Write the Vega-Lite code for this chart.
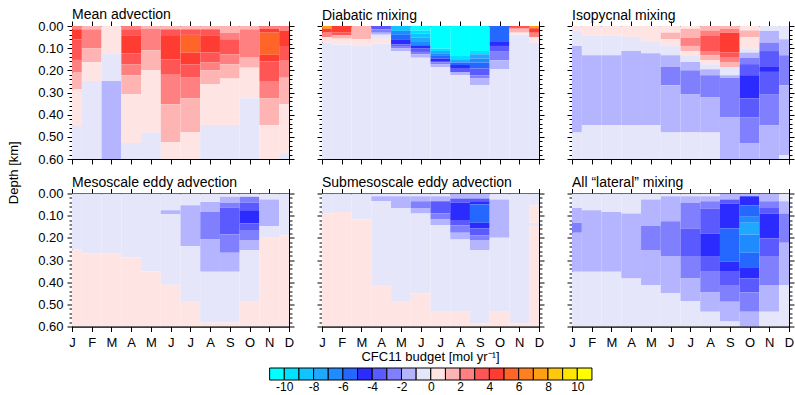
{
"$schema":"https://vega.github.io/schema/vega-lite/v6.json",
"padding":{"left":7,"top":7,"right":2,"bottom":2},
"config":{
 "font":"Liberation Sans",
 "view":{"stroke":"black","strokeWidth":1},
 "axis":{"grid":false,"domainColor":"black","domainWidth":1,"tickColor":"black","tickWidth":1,"labelColor":"black","labelFont":"Liberation Sans","labelFontSize":13,"labelFlush":false,"labelOverlap":false,"zindex":1,"titleFont":"Liberation Sans","titleFontSize":13,"titleFontWeight":"normal","titleColor":"black"},
 "axisX":{"tickSize":5,"labelPadding":5},
 "title":{"anchor":"start","frame":"group","fontSize":14,"fontWeight":"normal","color":"black","offset":0,"dy":6,"baseline":"alphabetic","font":"Liberation Sans"}
},
"title":{"text":"Depth [km]","orient":"left","anchor":"middle","frame":"bounds","fontSize":13,"offset":6.2,"dx":27,"dy":0,"baseline":"alphabetic"},
"datasets":{"cells":[
{"p":1,"m":0,"a":0,"b":0.015,"v":2.5},{"p":1,"m":0,"a":0.015,"b":0.06,"v":4.5},{"p":1,"m":0,"a":0.06,"b":0.153,"v":3.5},{"p":1,"m":0,"a":0.153,"b":0.21,"v":2.5},{"p":1,"m":0,"a":0.21,"b":0.285,"v":1.5},{"p":1,"m":0,"a":0.285,"b":0.447,"v":0.5},{"p":1,"m":0,"a":0.447,"b":0.6,"v":-0.5},
{"p":1,"m":1,"a":0,"b":0.015,"v":1.5},{"p":1,"m":1,"a":0.015,"b":0.1,"v":2.5},{"p":1,"m":1,"a":0.1,"b":0.163,"v":1.5},{"p":1,"m":1,"a":0.163,"b":0.248,"v":0.5},{"p":1,"m":1,"a":0.248,"b":0.6,"v":-0.5},
{"p":1,"m":2,"a":0,"b":0.123,"v":0.5},{"p":1,"m":2,"a":0.123,"b":0.248,"v":-0.5},{"p":1,"m":2,"a":0.248,"b":0.6,"v":-1.5},
{"p":1,"m":3,"a":0,"b":0.015,"v":2.5},{"p":1,"m":3,"a":0.015,"b":0.042,"v":3.5},{"p":1,"m":3,"a":0.042,"b":0.123,"v":4.5},{"p":1,"m":3,"a":0.123,"b":0.173,"v":3.5},{"p":1,"m":3,"a":0.173,"b":0.222,"v":2.5},{"p":1,"m":3,"a":0.222,"b":0.308,"v":1.5},{"p":1,"m":3,"a":0.308,"b":0.528,"v":0.5},{"p":1,"m":3,"a":0.528,"b":0.6,"v":-0.5},
{"p":1,"m":4,"a":0,"b":0.012,"v":1.5},{"p":1,"m":4,"a":0.012,"b":0.11,"v":2.5},{"p":1,"m":4,"a":0.11,"b":0.2,"v":1.5},{"p":1,"m":4,"a":0.2,"b":0.48,"v":0.5},{"p":1,"m":4,"a":0.48,"b":0.6,"v":-0.5},
{"p":1,"m":5,"a":0,"b":0.015,"v":1.5},{"p":1,"m":5,"a":0.015,"b":0.045,"v":3.5},{"p":1,"m":5,"a":0.045,"b":0.15,"v":4.5},{"p":1,"m":5,"a":0.15,"b":0.22,"v":3.5},{"p":1,"m":5,"a":0.22,"b":0.353,"v":2.5},{"p":1,"m":5,"a":0.353,"b":0.525,"v":1.5},{"p":1,"m":5,"a":0.525,"b":0.6,"v":0.5},
{"p":1,"m":6,"a":0,"b":0.015,"v":1.5},{"p":1,"m":6,"a":0.015,"b":0.04,"v":3.5},{"p":1,"m":6,"a":0.04,"b":0.12,"v":5.5},{"p":1,"m":6,"a":0.12,"b":0.173,"v":4.5},{"p":1,"m":6,"a":0.173,"b":0.233,"v":3.5},{"p":1,"m":6,"a":0.233,"b":0.326,"v":2.5},{"p":1,"m":6,"a":0.326,"b":0.48,"v":1.5},{"p":1,"m":6,"a":0.48,"b":0.6,"v":0.5},
{"p":1,"m":7,"a":0,"b":0.015,"v":1.5},{"p":1,"m":7,"a":0.015,"b":0.042,"v":3.5},{"p":1,"m":7,"a":0.042,"b":0.12,"v":4.5},{"p":1,"m":7,"a":0.12,"b":0.165,"v":3.5},{"p":1,"m":7,"a":0.165,"b":0.2,"v":2.5},{"p":1,"m":7,"a":0.2,"b":0.263,"v":1.5},{"p":1,"m":7,"a":0.263,"b":0.447,"v":0.5},{"p":1,"m":7,"a":0.447,"b":0.6,"v":-0.5},
{"p":1,"m":8,"a":0,"b":0.03,"v":1.5},{"p":1,"m":8,"a":0.03,"b":0.06,"v":2.5},{"p":1,"m":8,"a":0.06,"b":0.128,"v":3.5},{"p":1,"m":8,"a":0.128,"b":0.173,"v":2.5},{"p":1,"m":8,"a":0.173,"b":0.237,"v":1.5},{"p":1,"m":8,"a":0.237,"b":0.447,"v":0.5},{"p":1,"m":8,"a":0.447,"b":0.6,"v":-0.5},
{"p":1,"m":9,"a":0,"b":0.015,"v":1.5},{"p":1,"m":9,"a":0.015,"b":0.143,"v":2.5},{"p":1,"m":9,"a":0.143,"b":0.188,"v":1.5},{"p":1,"m":9,"a":0.188,"b":0.326,"v":0.5},{"p":1,"m":9,"a":0.326,"b":0.6,"v":-0.5},
{"p":1,"m":10,"a":0,"b":0.012,"v":2.5},{"p":1,"m":10,"a":0.012,"b":0.03,"v":4.5},{"p":1,"m":10,"a":0.03,"b":0.13,"v":5.5},{"p":1,"m":10,"a":0.13,"b":0.16,"v":4.5},{"p":1,"m":10,"a":0.16,"b":0.248,"v":3.5},{"p":1,"m":10,"a":0.248,"b":0.327,"v":2.5},{"p":1,"m":10,"a":0.327,"b":0.447,"v":1.5},{"p":1,"m":10,"a":0.447,"b":0.6,"v":0.5},
{"p":1,"m":11,"a":0,"b":0.022,"v":2.5},{"p":1,"m":11,"a":0.022,"b":0.09,"v":4.5},{"p":1,"m":11,"a":0.09,"b":0.153,"v":3.5},{"p":1,"m":11,"a":0.153,"b":0.233,"v":2.5},{"p":1,"m":11,"a":0.233,"b":0.353,"v":1.5},{"p":1,"m":11,"a":0.353,"b":0.578,"v":0.5},{"p":1,"m":11,"a":0.578,"b":0.6,"v":-0.5},

{"p":2,"m":0,"a":0,"b":0.012,"v":7.5},{"p":2,"m":0,"a":0.012,"b":0.03,"v":4.5},{"p":2,"m":0,"a":0.03,"b":0.05,"v":2.5},{"p":2,"m":0,"a":0.05,"b":0.075,"v":0.5},{"p":2,"m":0,"a":0.075,"b":0.6,"v":-0.5},
{"p":2,"m":1,"a":0,"b":0.03,"v":4.5},{"p":2,"m":1,"a":0.03,"b":0.042,"v":3.5},{"p":2,"m":1,"a":0.042,"b":0.057,"v":1.5},{"p":2,"m":1,"a":0.057,"b":0.083,"v":0.5},{"p":2,"m":1,"a":0.083,"b":0.6,"v":-0.5},
{"p":2,"m":2,"a":0,"b":0.06,"v":1.5},{"p":2,"m":2,"a":0.06,"b":0.09,"v":0.5},{"p":2,"m":2,"a":0.09,"b":0.6,"v":-0.5},
{"p":2,"m":3,"a":0,"b":0.015,"v":-3.5},{"p":2,"m":3,"a":0.015,"b":0.03,"v":-2.5},{"p":2,"m":3,"a":0.03,"b":0.04,"v":-1.5},{"p":2,"m":3,"a":0.04,"b":0.057,"v":-0.5},{"p":2,"m":3,"a":0.057,"b":0.08,"v":0.5},{"p":2,"m":3,"a":0.08,"b":0.6,"v":-0.5},
{"p":2,"m":4,"a":0,"b":0.022,"v":-8.5},{"p":2,"m":4,"a":0.022,"b":0.04,"v":-6.5},{"p":2,"m":4,"a":0.04,"b":0.06,"v":-5.5},{"p":2,"m":4,"a":0.06,"b":0.083,"v":-4.5},{"p":2,"m":4,"a":0.083,"b":0.09,"v":-3.5},{"p":2,"m":4,"a":0.09,"b":0.1,"v":-2.5},{"p":2,"m":4,"a":0.1,"b":0.113,"v":-1.5},{"p":2,"m":4,"a":0.113,"b":0.6,"v":-0.5},
{"p":2,"m":5,"a":0,"b":0.02,"v":-11},{"p":2,"m":5,"a":0.02,"b":0.035,"v":-9.5},{"p":2,"m":5,"a":0.035,"b":0.053,"v":-8.5},{"p":2,"m":5,"a":0.053,"b":0.072,"v":-7.5},{"p":2,"m":5,"a":0.072,"b":0.087,"v":-6.5},{"p":2,"m":5,"a":0.087,"b":0.102,"v":-4.5},{"p":2,"m":5,"a":0.102,"b":0.117,"v":-3.5},{"p":2,"m":5,"a":0.117,"b":0.128,"v":-2.5},{"p":2,"m":5,"a":0.128,"b":0.143,"v":-1.5},{"p":2,"m":5,"a":0.143,"b":0.6,"v":-0.5},
{"p":2,"m":6,"a":0,"b":0.102,"v":-11},{"p":2,"m":6,"a":0.102,"b":0.113,"v":-9.5},{"p":2,"m":6,"a":0.113,"b":0.123,"v":-7.5},{"p":2,"m":6,"a":0.123,"b":0.135,"v":-6.5},{"p":2,"m":6,"a":0.135,"b":0.147,"v":-5.5},{"p":2,"m":6,"a":0.147,"b":0.158,"v":-4.5},{"p":2,"m":6,"a":0.158,"b":0.165,"v":-3.5},{"p":2,"m":6,"a":0.165,"b":0.172,"v":-2.5},{"p":2,"m":6,"a":0.172,"b":0.185,"v":-1.5},{"p":2,"m":6,"a":0.185,"b":0.6,"v":-0.5},
{"p":2,"m":7,"a":0,"b":0.135,"v":-11},{"p":2,"m":7,"a":0.135,"b":0.15,"v":-9.5},{"p":2,"m":7,"a":0.15,"b":0.165,"v":-7.5},{"p":2,"m":7,"a":0.165,"b":0.176,"v":-5.5},{"p":2,"m":7,"a":0.176,"b":0.19,"v":-4.5},{"p":2,"m":7,"a":0.19,"b":0.207,"v":-3.5},{"p":2,"m":7,"a":0.207,"b":0.222,"v":-1.5},{"p":2,"m":7,"a":0.222,"b":0.6,"v":-0.5},
{"p":2,"m":8,"a":0,"b":0.113,"v":-11},{"p":2,"m":8,"a":0.113,"b":0.128,"v":-9.5},{"p":2,"m":8,"a":0.128,"b":0.147,"v":-7.5},{"p":2,"m":8,"a":0.147,"b":0.165,"v":-6.5},{"p":2,"m":8,"a":0.165,"b":0.192,"v":-5.5},{"p":2,"m":8,"a":0.192,"b":0.222,"v":-3.5},{"p":2,"m":8,"a":0.222,"b":0.237,"v":-2.5},{"p":2,"m":8,"a":0.237,"b":0.267,"v":-1.5},{"p":2,"m":8,"a":0.267,"b":0.6,"v":-0.5},
{"p":2,"m":9,"a":0,"b":0.072,"v":-5.5},{"p":2,"m":9,"a":0.072,"b":0.09,"v":-4.5},{"p":2,"m":9,"a":0.09,"b":0.113,"v":-3.5},{"p":2,"m":9,"a":0.113,"b":0.155,"v":-2.5},{"p":2,"m":9,"a":0.155,"b":0.195,"v":-1.5},{"p":2,"m":9,"a":0.195,"b":0.6,"v":-0.5},
{"p":2,"m":10,"a":0,"b":0.012,"v":3.5},{"p":2,"m":10,"a":0.012,"b":0.03,"v":1.5},{"p":2,"m":10,"a":0.03,"b":0.038,"v":0.5},{"p":2,"m":10,"a":0.038,"b":0.6,"v":-0.5},
{"p":2,"m":11,"a":0,"b":0.01,"v":7.5},{"p":2,"m":11,"a":0.01,"b":0.03,"v":4.5},{"p":2,"m":11,"a":0.03,"b":0.05,"v":2.5},{"p":2,"m":11,"a":0.05,"b":0.075,"v":0.5},{"p":2,"m":11,"a":0.075,"b":0.6,"v":-0.5},

{"p":3,"m":0,"a":0,"b":0.02,"v":0.5},{"p":3,"m":0,"a":0.02,"b":0.09,"v":-0.5},{"p":3,"m":0,"a":0.09,"b":0.48,"v":-1.5},{"p":3,"m":0,"a":0.48,"b":0.6,"v":-0.5},
{"p":3,"m":1,"a":0,"b":0.042,"v":0.5},{"p":3,"m":1,"a":0.042,"b":0.132,"v":-0.5},{"p":3,"m":1,"a":0.132,"b":0.447,"v":-1.5},{"p":3,"m":1,"a":0.447,"b":0.6,"v":-0.5},
{"p":3,"m":2,"a":0,"b":0.042,"v":0.5},{"p":3,"m":2,"a":0.042,"b":0.132,"v":-0.5},{"p":3,"m":2,"a":0.132,"b":0.447,"v":-1.5},{"p":3,"m":2,"a":0.447,"b":0.6,"v":-0.5},
{"p":3,"m":3,"a":0,"b":0.05,"v":0.5},{"p":3,"m":3,"a":0.05,"b":0.113,"v":-0.5},{"p":3,"m":3,"a":0.113,"b":0.447,"v":-1.5},{"p":3,"m":3,"a":0.447,"b":0.6,"v":-0.5},
{"p":3,"m":4,"a":0,"b":0.072,"v":0.5},{"p":3,"m":4,"a":0.072,"b":0.123,"v":-0.5},{"p":3,"m":4,"a":0.123,"b":0.447,"v":-1.5},{"p":3,"m":4,"a":0.447,"b":0.6,"v":-0.5},
{"p":3,"m":5,"a":0,"b":0.03,"v":0.5},{"p":3,"m":5,"a":0.03,"b":0.06,"v":1.5},{"p":3,"m":5,"a":0.06,"b":0.09,"v":0.5},{"p":3,"m":5,"a":0.09,"b":0.132,"v":-0.5},{"p":3,"m":5,"a":0.132,"b":0.185,"v":-1.5},{"p":3,"m":5,"a":0.185,"b":0.267,"v":-2.5},{"p":3,"m":5,"a":0.267,"b":0.48,"v":-1.5},{"p":3,"m":5,"a":0.48,"b":0.6,"v":-0.5},
{"p":3,"m":6,"a":0,"b":0.012,"v":0.5},{"p":3,"m":6,"a":0.012,"b":0.053,"v":1.5},{"p":3,"m":6,"a":0.053,"b":0.09,"v":2.5},{"p":3,"m":6,"a":0.09,"b":0.113,"v":1.5},{"p":3,"m":6,"a":0.113,"b":0.132,"v":0.5},{"p":3,"m":6,"a":0.132,"b":0.162,"v":-0.5},{"p":3,"m":6,"a":0.162,"b":0.2,"v":-1.5},{"p":3,"m":6,"a":0.2,"b":0.307,"v":-2.5},{"p":3,"m":6,"a":0.307,"b":0.48,"v":-1.5},{"p":3,"m":6,"a":0.48,"b":0.6,"v":-0.5},
{"p":3,"m":7,"a":0,"b":0.02,"v":1.5},{"p":3,"m":7,"a":0.02,"b":0.045,"v":2.5},{"p":3,"m":7,"a":0.045,"b":0.113,"v":3.5},{"p":3,"m":7,"a":0.113,"b":0.132,"v":2.5},{"p":3,"m":7,"a":0.132,"b":0.155,"v":1.5},{"p":3,"m":7,"a":0.155,"b":0.173,"v":0.5},{"p":3,"m":7,"a":0.173,"b":0.195,"v":-0.5},{"p":3,"m":7,"a":0.195,"b":0.222,"v":-1.5},{"p":3,"m":7,"a":0.222,"b":0.323,"v":-2.5},{"p":3,"m":7,"a":0.323,"b":0.48,"v":-1.5},{"p":3,"m":7,"a":0.48,"b":0.6,"v":-0.5},
{"p":3,"m":8,"a":0,"b":0.012,"v":1.5},{"p":3,"m":8,"a":0.012,"b":0.03,"v":2.5},{"p":3,"m":8,"a":0.03,"b":0.12,"v":4.5},{"p":3,"m":8,"a":0.12,"b":0.143,"v":3.5},{"p":3,"m":8,"a":0.143,"b":0.162,"v":2.5},{"p":3,"m":8,"a":0.162,"b":0.185,"v":1.5},{"p":3,"m":8,"a":0.185,"b":0.222,"v":-0.5},{"p":3,"m":8,"a":0.222,"b":0.233,"v":-1.5},{"p":3,"m":8,"a":0.233,"b":0.413,"v":-2.5},{"p":3,"m":8,"a":0.413,"b":0.6,"v":-1.5},
{"p":3,"m":9,"a":0,"b":0.02,"v":0.5},{"p":3,"m":9,"a":0.02,"b":0.05,"v":1.5},{"p":3,"m":9,"a":0.05,"b":0.102,"v":0.5},{"p":3,"m":9,"a":0.102,"b":0.12,"v":-0.5},{"p":3,"m":9,"a":0.12,"b":0.143,"v":-1.5},{"p":3,"m":9,"a":0.143,"b":0.172,"v":-2.5},{"p":3,"m":9,"a":0.172,"b":0.222,"v":-3.5},{"p":3,"m":9,"a":0.222,"b":0.327,"v":-4.5},{"p":3,"m":9,"a":0.327,"b":0.413,"v":-3.5},{"p":3,"m":9,"a":0.413,"b":0.528,"v":-2.5},{"p":3,"m":9,"a":0.528,"b":0.6,"v":-1.5},
{"p":3,"m":10,"a":0,"b":0.022,"v":-0.5},{"p":3,"m":10,"a":0.022,"b":0.075,"v":-1.5},{"p":3,"m":10,"a":0.075,"b":0.113,"v":-2.5},{"p":3,"m":10,"a":0.113,"b":0.185,"v":-3.5},{"p":3,"m":10,"a":0.185,"b":0.207,"v":-4.5},{"p":3,"m":10,"a":0.207,"b":0.307,"v":-3.5},{"p":3,"m":10,"a":0.307,"b":0.447,"v":-2.5},{"p":3,"m":10,"a":0.447,"b":0.6,"v":-1.5},
{"p":3,"m":11,"a":0,"b":0.06,"v":-0.5},{"p":3,"m":11,"a":0.06,"b":0.132,"v":-1.5},{"p":3,"m":11,"a":0.132,"b":0.267,"v":-2.5},{"p":3,"m":11,"a":0.267,"b":0.582,"v":-1.5},{"p":3,"m":11,"a":0.582,"b":0.6,"v":-0.5},

{"p":4,"m":0,"a":0,"b":0.252,"v":-0.5},{"p":4,"m":0,"a":0.252,"b":0.6,"v":0.5},
{"p":4,"m":1,"a":0,"b":0.27,"v":-0.5},{"p":4,"m":1,"a":0.27,"b":0.6,"v":0.5},
{"p":4,"m":2,"a":0,"b":0.27,"v":-0.5},{"p":4,"m":2,"a":0.27,"b":0.6,"v":0.5},
{"p":4,"m":3,"a":0,"b":0.288,"v":-0.5},{"p":4,"m":3,"a":0.288,"b":0.6,"v":0.5},
{"p":4,"m":4,"a":0,"b":0.352,"v":-0.5},{"p":4,"m":4,"a":0.352,"b":0.6,"v":0.5},
{"p":4,"m":5,"a":0,"b":0.075,"v":-0.5},{"p":4,"m":5,"a":0.075,"b":0.093,"v":-1.5},{"p":4,"m":5,"a":0.093,"b":0.412,"v":-0.5},{"p":4,"m":5,"a":0.412,"b":0.6,"v":0.5},
{"p":4,"m":6,"a":0,"b":0.053,"v":-0.5},{"p":4,"m":6,"a":0.053,"b":0.237,"v":-1.5},{"p":4,"m":6,"a":0.237,"b":0.485,"v":-0.5},{"p":4,"m":6,"a":0.485,"b":0.6,"v":0.5},
{"p":4,"m":7,"a":0,"b":0.038,"v":-0.5},{"p":4,"m":7,"a":0.038,"b":0.083,"v":-1.5},{"p":4,"m":7,"a":0.083,"b":0.207,"v":-2.5},{"p":4,"m":7,"a":0.207,"b":0.353,"v":-1.5},{"p":4,"m":7,"a":0.353,"b":0.582,"v":-0.5},{"p":4,"m":7,"a":0.582,"b":0.6,"v":0.5},
{"p":4,"m":8,"a":0,"b":0.015,"v":-0.5},{"p":4,"m":8,"a":0.015,"b":0.042,"v":-1.5},{"p":4,"m":8,"a":0.042,"b":0.063,"v":-2.5},{"p":4,"m":8,"a":0.063,"b":0.185,"v":-3.5},{"p":4,"m":8,"a":0.185,"b":0.267,"v":-2.5},{"p":4,"m":8,"a":0.267,"b":0.353,"v":-1.5},{"p":4,"m":8,"a":0.353,"b":0.582,"v":-0.5},{"p":4,"m":8,"a":0.582,"b":0.6,"v":0.5},
{"p":4,"m":9,"a":0,"b":0.015,"v":-0.5},{"p":4,"m":9,"a":0.015,"b":0.042,"v":-2.5},{"p":4,"m":9,"a":0.042,"b":0.075,"v":-3.5},{"p":4,"m":9,"a":0.075,"b":0.135,"v":-4.5},{"p":4,"m":9,"a":0.135,"b":0.165,"v":-3.5},{"p":4,"m":9,"a":0.165,"b":0.21,"v":-2.5},{"p":4,"m":9,"a":0.21,"b":0.255,"v":-1.5},{"p":4,"m":9,"a":0.255,"b":0.485,"v":-0.5},{"p":4,"m":9,"a":0.485,"b":0.6,"v":0.5},
{"p":4,"m":10,"a":0,"b":0.027,"v":-0.5},{"p":4,"m":10,"a":0.027,"b":0.147,"v":-1.5},{"p":4,"m":10,"a":0.147,"b":0.2,"v":-0.5},{"p":4,"m":10,"a":0.2,"b":0.6,"v":0.5},
{"p":4,"m":11,"a":0,"b":0.188,"v":-0.5},{"p":4,"m":11,"a":0.188,"b":0.6,"v":0.5},

{"p":5,"m":0,"a":0,"b":0.09,"v":-0.5},{"p":5,"m":0,"a":0.09,"b":0.6,"v":0.5},
{"p":5,"m":1,"a":0,"b":0.083,"v":-0.5},{"p":5,"m":1,"a":0.083,"b":0.6,"v":0.5},
{"p":5,"m":2,"a":0,"b":0.117,"v":-0.5},{"p":5,"m":2,"a":0.117,"b":0.6,"v":0.5},
{"p":5,"m":3,"a":0,"b":0.012,"v":-0.5},{"p":5,"m":3,"a":0.012,"b":0.035,"v":-1.5},{"p":5,"m":3,"a":0.035,"b":0.413,"v":-0.5},{"p":5,"m":3,"a":0.413,"b":0.6,"v":0.5},
{"p":5,"m":4,"a":0,"b":0.012,"v":-0.5},{"p":5,"m":4,"a":0.012,"b":0.065,"v":-1.5},{"p":5,"m":4,"a":0.065,"b":0.485,"v":-0.5},{"p":5,"m":4,"a":0.485,"b":0.6,"v":0.5},
{"p":5,"m":5,"a":0,"b":0.012,"v":-0.5},{"p":5,"m":5,"a":0.012,"b":0.035,"v":-1.5},{"p":5,"m":5,"a":0.035,"b":0.065,"v":-2.5},{"p":5,"m":5,"a":0.065,"b":0.09,"v":-1.5},{"p":5,"m":5,"a":0.09,"b":0.45,"v":-0.5},{"p":5,"m":5,"a":0.45,"b":0.6,"v":0.5},
{"p":5,"m":6,"a":0,"b":0.012,"v":-0.5},{"p":5,"m":6,"a":0.012,"b":0.035,"v":-1.5},{"p":5,"m":6,"a":0.035,"b":0.09,"v":-3.5},{"p":5,"m":6,"a":0.09,"b":0.117,"v":-2.5},{"p":5,"m":6,"a":0.117,"b":0.143,"v":-1.5},{"p":5,"m":6,"a":0.143,"b":0.533,"v":-0.5},{"p":5,"m":6,"a":0.533,"b":0.6,"v":0.5},
{"p":5,"m":7,"a":0,"b":0.022,"v":-1.5},{"p":5,"m":7,"a":0.022,"b":0.042,"v":-3.5},{"p":5,"m":7,"a":0.042,"b":0.12,"v":-4.5},{"p":5,"m":7,"a":0.12,"b":0.143,"v":-3.5},{"p":5,"m":7,"a":0.143,"b":0.177,"v":-2.5},{"p":5,"m":7,"a":0.177,"b":0.207,"v":-1.5},{"p":5,"m":7,"a":0.207,"b":0.533,"v":-0.5},{"p":5,"m":7,"a":0.533,"b":0.6,"v":0.5},
{"p":5,"m":8,"a":0,"b":0.022,"v":-1.5},{"p":5,"m":8,"a":0.022,"b":0.035,"v":-3.5},{"p":5,"m":8,"a":0.035,"b":0.05,"v":-4.5},{"p":5,"m":8,"a":0.05,"b":0.132,"v":-5.5},{"p":5,"m":8,"a":0.132,"b":0.158,"v":-4.5},{"p":5,"m":8,"a":0.158,"b":0.188,"v":-3.5},{"p":5,"m":8,"a":0.188,"b":0.21,"v":-2.5},{"p":5,"m":8,"a":0.21,"b":0.255,"v":-1.5},{"p":5,"m":8,"a":0.255,"b":0.585,"v":-0.5},{"p":5,"m":8,"a":0.585,"b":0.6,"v":0.5},
{"p":5,"m":9,"a":0,"b":0.027,"v":-0.5},{"p":5,"m":9,"a":0.027,"b":0.2,"v":-1.5},{"p":5,"m":9,"a":0.2,"b":0.533,"v":-0.5},{"p":5,"m":9,"a":0.533,"b":0.6,"v":0.5},
{"p":5,"m":10,"a":0,"b":0.585,"v":-0.5},{"p":5,"m":10,"a":0.585,"b":0.6,"v":0.5},
{"p":5,"m":11,"a":0,"b":0.053,"v":-0.5},{"p":5,"m":11,"a":0.053,"b":0.132,"v":0.5},{"p":5,"m":11,"a":0.132,"b":0.147,"v":-0.5},{"p":5,"m":11,"a":0.147,"b":0.6,"v":0.5},

{"p":6,"m":0,"a":0,"b":0.065,"v":-0.5},{"p":6,"m":0,"a":0.065,"b":0.132,"v":-1.5},{"p":6,"m":0,"a":0.132,"b":0.177,"v":-2.5},{"p":6,"m":0,"a":0.177,"b":0.353,"v":-1.5},{"p":6,"m":0,"a":0.353,"b":0.6,"v":-0.5},
{"p":6,"m":1,"a":0,"b":0.075,"v":-0.5},{"p":6,"m":1,"a":0.075,"b":0.353,"v":-1.5},{"p":6,"m":1,"a":0.353,"b":0.6,"v":-0.5},
{"p":6,"m":2,"a":0,"b":0.083,"v":-0.5},{"p":6,"m":2,"a":0.083,"b":0.353,"v":-1.5},{"p":6,"m":2,"a":0.353,"b":0.6,"v":-0.5},
{"p":6,"m":3,"a":0,"b":0.09,"v":-0.5},{"p":6,"m":3,"a":0.09,"b":0.383,"v":-1.5},{"p":6,"m":3,"a":0.383,"b":0.6,"v":-0.5},
{"p":6,"m":4,"a":0,"b":0.027,"v":-0.5},{"p":6,"m":4,"a":0.027,"b":0.147,"v":-1.5},{"p":6,"m":4,"a":0.147,"b":0.255,"v":-2.5},{"p":6,"m":4,"a":0.255,"b":0.413,"v":-1.5},{"p":6,"m":4,"a":0.413,"b":0.6,"v":-0.5},
{"p":6,"m":5,"a":0,"b":0.012,"v":-0.5},{"p":6,"m":5,"a":0.012,"b":0.125,"v":-1.5},{"p":6,"m":5,"a":0.125,"b":0.282,"v":-2.5},{"p":6,"m":5,"a":0.282,"b":0.45,"v":-1.5},{"p":6,"m":5,"a":0.45,"b":0.6,"v":-0.5},
{"p":6,"m":6,"a":0,"b":0.012,"v":-0.5},{"p":6,"m":6,"a":0.012,"b":0.042,"v":-1.5},{"p":6,"m":6,"a":0.042,"b":0.158,"v":-2.5},{"p":6,"m":6,"a":0.158,"b":0.285,"v":-3.5},{"p":6,"m":6,"a":0.285,"b":0.383,"v":-2.5},{"p":6,"m":6,"a":0.383,"b":0.485,"v":-1.5},{"p":6,"m":6,"a":0.485,"b":0.6,"v":-0.5},
{"p":6,"m":7,"a":0,"b":0.012,"v":-0.5},{"p":6,"m":7,"a":0.012,"b":0.035,"v":-1.5},{"p":6,"m":7,"a":0.035,"b":0.068,"v":-2.5},{"p":6,"m":7,"a":0.068,"b":0.18,"v":-3.5},{"p":6,"m":7,"a":0.18,"b":0.285,"v":-4.5},{"p":6,"m":7,"a":0.285,"b":0.353,"v":-3.5},{"p":6,"m":7,"a":0.353,"b":0.447,"v":-2.5},{"p":6,"m":7,"a":0.447,"b":0.533,"v":-1.5},{"p":6,"m":7,"a":0.533,"b":0.6,"v":-0.5},
{"p":6,"m":8,"a":0,"b":0.027,"v":-1.5},{"p":6,"m":8,"a":0.027,"b":0.045,"v":-3.5},{"p":6,"m":8,"a":0.045,"b":0.158,"v":-4.5},{"p":6,"m":8,"a":0.158,"b":0.308,"v":-5.5},{"p":6,"m":8,"a":0.308,"b":0.353,"v":-4.5},{"p":6,"m":8,"a":0.353,"b":0.413,"v":-3.5},{"p":6,"m":8,"a":0.413,"b":0.488,"v":-2.5},{"p":6,"m":8,"a":0.488,"b":0.578,"v":-1.5},{"p":6,"m":8,"a":0.578,"b":0.6,"v":-0.5},
{"p":6,"m":9,"a":0,"b":0.012,"v":-1.5},{"p":6,"m":9,"a":0.012,"b":0.053,"v":-4.5},{"p":6,"m":9,"a":0.053,"b":0.105,"v":-5.5},{"p":6,"m":9,"a":0.105,"b":0.132,"v":-6.5},{"p":6,"m":9,"a":0.132,"b":0.185,"v":-7.5},{"p":6,"m":9,"a":0.185,"b":0.267,"v":-6.5},{"p":6,"m":9,"a":0.267,"b":0.333,"v":-5.5},{"p":6,"m":9,"a":0.333,"b":0.383,"v":-4.5},{"p":6,"m":9,"a":0.383,"b":0.447,"v":-3.5},{"p":6,"m":9,"a":0.447,"b":0.533,"v":-2.5},{"p":6,"m":9,"a":0.533,"b":0.6,"v":-1.5},
{"p":6,"m":10,"a":0,"b":0.035,"v":-1.5},{"p":6,"m":10,"a":0.035,"b":0.065,"v":-2.5},{"p":6,"m":10,"a":0.065,"b":0.09,"v":-3.5},{"p":6,"m":10,"a":0.09,"b":0.203,"v":-4.5},{"p":6,"m":10,"a":0.203,"b":0.285,"v":-3.5},{"p":6,"m":10,"a":0.285,"b":0.413,"v":-2.5},{"p":6,"m":10,"a":0.413,"b":0.533,"v":-1.5},{"p":6,"m":10,"a":0.533,"b":0.6,"v":-0.5},
{"p":6,"m":11,"a":0,"b":0.035,"v":-0.5},{"p":6,"m":11,"a":0.035,"b":0.09,"v":-1.5},{"p":6,"m":11,"a":0.09,"b":0.222,"v":-2.5},{"p":6,"m":11,"a":0.222,"b":0.413,"v":-1.5},{"p":6,"m":11,"a":0.413,"b":0.6,"v":-0.5}
],
"bar":[
{"lo":-11,"hi":-10,"c":-10.5},{"lo":-10,"hi":-9,"c":-9.5},{"lo":-9,"hi":-8,"c":-8.5},{"lo":-8,"hi":-7,"c":-7.5},{"lo":-7,"hi":-6,"c":-6.5},{"lo":-6,"hi":-5,"c":-5.5},{"lo":-5,"hi":-4,"c":-4.5},{"lo":-4,"hi":-3,"c":-3.5},{"lo":-3,"hi":-2,"c":-2.5},{"lo":-2,"hi":-1,"c":-1.5},{"lo":-1,"hi":0,"c":-0.5},
{"lo":0,"hi":1,"c":0.5},{"lo":1,"hi":2,"c":1.5},{"lo":2,"hi":3,"c":2.5},{"lo":3,"hi":4,"c":3.5},{"lo":4,"hi":5,"c":4.5},{"lo":5,"hi":6,"c":5.5},{"lo":6,"hi":7,"c":6.5},{"lo":7,"hi":8,"c":7.5},{"lo":8,"hi":9,"c":8.5},{"lo":9,"hi":10,"c":9.5},{"lo":10,"hi":11,"c":10.5}
]},
"spacing":0,
"vconcat":[
 {"data":{"name":"cells"},
  "transform":[{"calculate":"datum.m-0.5","as":"x0"},{"calculate":"datum.m+0.5","as":"x1"}],
  "spacing":7.5,
  "vconcat":[
  {"spacing":21,"hconcat":[
   {"width":217,"height":133,"title":"Mean advection","transform":[{"filter":"datum.p==1"}],
    "layer":[
     {"mark":{"type":"rect","clip":true},"encoding":{
      "x":{"field":"x0","type":"quantitative","scale":{"domain":[0,11],"nice":false,"zero":false},"axis":{"orient":"bottom","values":[0,1,2,3,4,5,6,7,8,9,10,11],"labels":false,"title":null}},
      "x2":{"field":"x1"},
      "y":{"field":"a","type":"quantitative","scale":{"domain":[0,0.6],"reverse":true,"nice":false,"zero":false},"axis":{"orient":"left","values":[0,0.02,0.04,0.06,0.08,0.1,0.12,0.14,0.16,0.18,0.2,0.22,0.24,0.26,0.28,0.3,0.32,0.34,0.36,0.38,0.4,0.42,0.44,0.46,0.48,0.5,0.52,0.54,0.56,0.58,0.6],"labelExpr":"round(datum.value*100)%10===0 ? format(datum.value,'.2f') : ''","labelPadding":4,"tickSize":{"condition":{"test":"round(datum.value*100)%10===0","value":5},"value":3},"title":null}},
      "y2":{"field":"b"},
      "color":{"field":"v","type":"quantitative","scale":{"type":"threshold","domain":[-10,-9,-8,-7,-6,-5,-4,-3,-2,-1,0,1,2,3,4,5,6,7,8,9,10],"range":["#00FFFF","#00E0FF","#10C4FF","#1EA8FF","#1E8CFF","#2468FF","#2B2BFF","#5A5AFF","#8080FF","#B4B4FF","#E6E6FA","#FFE4E4","#FFB4B4","#FF8080","#FF5555","#FF3C32","#FF6428","#FF8020","#FFA014","#FFC80A","#FFE600","#FFFF00"]},"legend":null}}},
     {"mark":{"type":"rect","clip":true,"opacity":0},"encoding":{
      "x":{"field":"x0","type":"quantitative","scale":{"domain":[0,11],"nice":false,"zero":false},"axis":{"orient":"top","values":[0,1,2,3,4,5,6,7,8,9,10,11],"labels":false,"title":null}},
      "x2":{"field":"x1"},
      "y":{"field":"a","type":"quantitative","scale":{"domain":[0,0.6],"reverse":true,"nice":false,"zero":false},"axis":{"orient":"right","values":[0,0.02,0.04,0.06,0.08,0.1,0.12,0.14,0.16,0.18,0.2,0.22,0.24,0.26,0.28,0.3,0.32,0.34,0.36,0.38,0.4,0.42,0.44,0.46,0.48,0.5,0.52,0.54,0.56,0.58,0.6],"labels":false,"tickSize":{"condition":{"test":"round(datum.value*100)%10===0","value":5},"value":3},"title":null}},
      "y2":{"field":"b"}}}
    ],
    "resolve":{"axis":{"x":"independent","y":"independent"}}},
   {"width":217,"height":133,"title":"Diabatic mixing","transform":[{"filter":"datum.p==2"}],
    "layer":[
     {"mark":{"type":"rect","clip":true},"encoding":{
      "x":{"field":"x0","type":"quantitative","scale":{"domain":[0,11],"nice":false,"zero":false},"axis":{"orient":"bottom","values":[0,1,2,3,4,5,6,7,8,9,10,11],"labels":false,"title":null}},
      "x2":{"field":"x1"},
      "y":{"field":"a","type":"quantitative","scale":{"domain":[0,0.6],"reverse":true,"nice":false,"zero":false},"axis":{"orient":"left","values":[0,0.02,0.04,0.06,0.08,0.1,0.12,0.14,0.16,0.18,0.2,0.22,0.24,0.26,0.28,0.3,0.32,0.34,0.36,0.38,0.4,0.42,0.44,0.46,0.48,0.5,0.52,0.54,0.56,0.58,0.6],"labels":false,"tickSize":{"condition":{"test":"round(datum.value*100)%10===0","value":5},"value":3},"title":null}},
      "y2":{"field":"b"},
      "color":{"field":"v","type":"quantitative","scale":{"type":"threshold","domain":[-10,-9,-8,-7,-6,-5,-4,-3,-2,-1,0,1,2,3,4,5,6,7,8,9,10],"range":["#00FFFF","#00E0FF","#10C4FF","#1EA8FF","#1E8CFF","#2468FF","#2B2BFF","#5A5AFF","#8080FF","#B4B4FF","#E6E6FA","#FFE4E4","#FFB4B4","#FF8080","#FF5555","#FF3C32","#FF6428","#FF8020","#FFA014","#FFC80A","#FFE600","#FFFF00"]},"legend":null}}},
     {"mark":{"type":"rect","clip":true,"opacity":0},"encoding":{
      "x":{"field":"x0","type":"quantitative","scale":{"domain":[0,11],"nice":false,"zero":false},"axis":{"orient":"top","values":[0,1,2,3,4,5,6,7,8,9,10,11],"labels":false,"title":null}},
      "x2":{"field":"x1"},
      "y":{"field":"a","type":"quantitative","scale":{"domain":[0,0.6],"reverse":true,"nice":false,"zero":false},"axis":{"orient":"right","values":[0,0.02,0.04,0.06,0.08,0.1,0.12,0.14,0.16,0.18,0.2,0.22,0.24,0.26,0.28,0.3,0.32,0.34,0.36,0.38,0.4,0.42,0.44,0.46,0.48,0.5,0.52,0.54,0.56,0.58,0.6],"labels":false,"tickSize":{"condition":{"test":"round(datum.value*100)%10===0","value":5},"value":3},"title":null}},
      "y2":{"field":"b"}}}
    ],
    "resolve":{"axis":{"x":"independent","y":"independent"}}},
   {"width":217,"height":133,"title":"Isopycnal mixing","transform":[{"filter":"datum.p==3"}],
    "layer":[
     {"mark":{"type":"rect","clip":true},"encoding":{
      "x":{"field":"x0","type":"quantitative","scale":{"domain":[0,11],"nice":false,"zero":false},"axis":{"orient":"bottom","values":[0,1,2,3,4,5,6,7,8,9,10,11],"labels":false,"title":null}},
      "x2":{"field":"x1"},
      "y":{"field":"a","type":"quantitative","scale":{"domain":[0,0.6],"reverse":true,"nice":false,"zero":false},"axis":{"orient":"left","values":[0,0.02,0.04,0.06,0.08,0.1,0.12,0.14,0.16,0.18,0.2,0.22,0.24,0.26,0.28,0.3,0.32,0.34,0.36,0.38,0.4,0.42,0.44,0.46,0.48,0.5,0.52,0.54,0.56,0.58,0.6],"labels":false,"tickSize":{"condition":{"test":"round(datum.value*100)%10===0","value":5},"value":3},"title":null}},
      "y2":{"field":"b"},
      "color":{"field":"v","type":"quantitative","scale":{"type":"threshold","domain":[-10,-9,-8,-7,-6,-5,-4,-3,-2,-1,0,1,2,3,4,5,6,7,8,9,10],"range":["#00FFFF","#00E0FF","#10C4FF","#1EA8FF","#1E8CFF","#2468FF","#2B2BFF","#5A5AFF","#8080FF","#B4B4FF","#E6E6FA","#FFE4E4","#FFB4B4","#FF8080","#FF5555","#FF3C32","#FF6428","#FF8020","#FFA014","#FFC80A","#FFE600","#FFFF00"]},"legend":null}}},
     {"mark":{"type":"rect","clip":true,"opacity":0},"encoding":{
      "x":{"field":"x0","type":"quantitative","scale":{"domain":[0,11],"nice":false,"zero":false},"axis":{"orient":"top","values":[0,1,2,3,4,5,6,7,8,9,10,11],"labels":false,"title":null}},
      "x2":{"field":"x1"},
      "y":{"field":"a","type":"quantitative","scale":{"domain":[0,0.6],"reverse":true,"nice":false,"zero":false},"axis":{"orient":"right","values":[0,0.02,0.04,0.06,0.08,0.1,0.12,0.14,0.16,0.18,0.2,0.22,0.24,0.26,0.28,0.3,0.32,0.34,0.36,0.38,0.4,0.42,0.44,0.46,0.48,0.5,0.52,0.54,0.56,0.58,0.6],"labels":false,"tickSize":{"condition":{"test":"round(datum.value*100)%10===0","value":5},"value":3},"title":null}},
      "y2":{"field":"b"}}}
    ],
    "resolve":{"axis":{"x":"independent","y":"independent"}}}
  ]},
  {"spacing":21,"hconcat":[
   {"width":217,"height":133,"title":"Mesoscale eddy advection","transform":[{"filter":"datum.p==4"}],
    "layer":[
     {"mark":{"type":"rect","clip":true},"encoding":{
      "x":{"field":"x0","type":"quantitative","scale":{"domain":[0,11],"nice":false,"zero":false},"axis":{"orient":"bottom","values":[0,1,2,3,4,5,6,7,8,9,10,11],"labelExpr":"['J','F','M','A','M','J','J','A','S','O','N','D'][datum.value]","labelFontSize":13,"title":null}},
      "x2":{"field":"x1"},
      "y":{"field":"a","type":"quantitative","scale":{"domain":[0,0.6],"reverse":true,"nice":false,"zero":false},"axis":{"orient":"left","values":[0,0.02,0.04,0.06,0.08,0.1,0.12,0.14,0.16,0.18,0.2,0.22,0.24,0.26,0.28,0.3,0.32,0.34,0.36,0.38,0.4,0.42,0.44,0.46,0.48,0.5,0.52,0.54,0.56,0.58,0.6],"labelExpr":"round(datum.value*100)%10===0 ? format(datum.value,'.2f') : ''","labelPadding":4,"tickSize":{"condition":{"test":"round(datum.value*100)%10===0","value":5},"value":3},"title":null}},
      "y2":{"field":"b"},
      "color":{"field":"v","type":"quantitative","scale":{"type":"threshold","domain":[-10,-9,-8,-7,-6,-5,-4,-3,-2,-1,0,1,2,3,4,5,6,7,8,9,10],"range":["#00FFFF","#00E0FF","#10C4FF","#1EA8FF","#1E8CFF","#2468FF","#2B2BFF","#5A5AFF","#8080FF","#B4B4FF","#E6E6FA","#FFE4E4","#FFB4B4","#FF8080","#FF5555","#FF3C32","#FF6428","#FF8020","#FFA014","#FFC80A","#FFE600","#FFFF00"]},"legend":null}}},
     {"mark":{"type":"rect","clip":true,"opacity":0},"encoding":{
      "x":{"field":"x0","type":"quantitative","scale":{"domain":[0,11],"nice":false,"zero":false},"axis":{"orient":"top","values":[0,1,2,3,4,5,6,7,8,9,10,11],"labels":false,"title":null}},
      "x2":{"field":"x1"},
      "y":{"field":"a","type":"quantitative","scale":{"domain":[0,0.6],"reverse":true,"nice":false,"zero":false},"axis":{"orient":"right","values":[0,0.02,0.04,0.06,0.08,0.1,0.12,0.14,0.16,0.18,0.2,0.22,0.24,0.26,0.28,0.3,0.32,0.34,0.36,0.38,0.4,0.42,0.44,0.46,0.48,0.5,0.52,0.54,0.56,0.58,0.6],"labels":false,"tickSize":{"condition":{"test":"round(datum.value*100)%10===0","value":5},"value":3},"title":null}},
      "y2":{"field":"b"}}}
    ],
    "resolve":{"axis":{"x":"independent","y":"independent"}}},
   {"width":217,"height":133,"title":"Submesoscale eddy advection","transform":[{"filter":"datum.p==5"}],
    "layer":[
     {"mark":{"type":"rect","clip":true},"encoding":{
      "x":{"field":"x0","type":"quantitative","scale":{"domain":[0,11],"nice":false,"zero":false},"axis":{"orient":"bottom","values":[0,1,2,3,4,5,6,7,8,9,10,11],"labelExpr":"['J','F','M','A','M','J','J','A','S','O','N','D'][datum.value]","labelFontSize":13,"title":null}},
      "x2":{"field":"x1"},
      "y":{"field":"a","type":"quantitative","scale":{"domain":[0,0.6],"reverse":true,"nice":false,"zero":false},"axis":{"orient":"left","values":[0,0.02,0.04,0.06,0.08,0.1,0.12,0.14,0.16,0.18,0.2,0.22,0.24,0.26,0.28,0.3,0.32,0.34,0.36,0.38,0.4,0.42,0.44,0.46,0.48,0.5,0.52,0.54,0.56,0.58,0.6],"labels":false,"tickSize":{"condition":{"test":"round(datum.value*100)%10===0","value":5},"value":3},"title":null}},
      "y2":{"field":"b"},
      "color":{"field":"v","type":"quantitative","scale":{"type":"threshold","domain":[-10,-9,-8,-7,-6,-5,-4,-3,-2,-1,0,1,2,3,4,5,6,7,8,9,10],"range":["#00FFFF","#00E0FF","#10C4FF","#1EA8FF","#1E8CFF","#2468FF","#2B2BFF","#5A5AFF","#8080FF","#B4B4FF","#E6E6FA","#FFE4E4","#FFB4B4","#FF8080","#FF5555","#FF3C32","#FF6428","#FF8020","#FFA014","#FFC80A","#FFE600","#FFFF00"]},"legend":null}}},
     {"mark":{"type":"rect","clip":true,"opacity":0},"encoding":{
      "x":{"field":"x0","type":"quantitative","scale":{"domain":[0,11],"nice":false,"zero":false},"axis":{"orient":"top","values":[0,1,2,3,4,5,6,7,8,9,10,11],"labels":false,"title":null}},
      "x2":{"field":"x1"},
      "y":{"field":"a","type":"quantitative","scale":{"domain":[0,0.6],"reverse":true,"nice":false,"zero":false},"axis":{"orient":"right","values":[0,0.02,0.04,0.06,0.08,0.1,0.12,0.14,0.16,0.18,0.2,0.22,0.24,0.26,0.28,0.3,0.32,0.34,0.36,0.38,0.4,0.42,0.44,0.46,0.48,0.5,0.52,0.54,0.56,0.58,0.6],"labels":false,"tickSize":{"condition":{"test":"round(datum.value*100)%10===0","value":5},"value":3},"title":null}},
      "y2":{"field":"b"}}}
    ],
    "resolve":{"axis":{"x":"independent","y":"independent"}}},
   {"width":217,"height":133,"title":"All “lateral” mixing","transform":[{"filter":"datum.p==6"}],
    "layer":[
     {"mark":{"type":"rect","clip":true},"encoding":{
      "x":{"field":"x0","type":"quantitative","scale":{"domain":[0,11],"nice":false,"zero":false},"axis":{"orient":"bottom","values":[0,1,2,3,4,5,6,7,8,9,10,11],"labelExpr":"['J','F','M','A','M','J','J','A','S','O','N','D'][datum.value]","labelFontSize":13,"title":null}},
      "x2":{"field":"x1"},
      "y":{"field":"a","type":"quantitative","scale":{"domain":[0,0.6],"reverse":true,"nice":false,"zero":false},"axis":{"orient":"left","values":[0,0.02,0.04,0.06,0.08,0.1,0.12,0.14,0.16,0.18,0.2,0.22,0.24,0.26,0.28,0.3,0.32,0.34,0.36,0.38,0.4,0.42,0.44,0.46,0.48,0.5,0.52,0.54,0.56,0.58,0.6],"labels":false,"tickSize":{"condition":{"test":"round(datum.value*100)%10===0","value":5},"value":3},"title":null}},
      "y2":{"field":"b"},
      "color":{"field":"v","type":"quantitative","scale":{"type":"threshold","domain":[-10,-9,-8,-7,-6,-5,-4,-3,-2,-1,0,1,2,3,4,5,6,7,8,9,10],"range":["#00FFFF","#00E0FF","#10C4FF","#1EA8FF","#1E8CFF","#2468FF","#2B2BFF","#5A5AFF","#8080FF","#B4B4FF","#E6E6FA","#FFE4E4","#FFB4B4","#FF8080","#FF5555","#FF3C32","#FF6428","#FF8020","#FFA014","#FFC80A","#FFE600","#FFFF00"]},"legend":null}}},
     {"mark":{"type":"rect","clip":true,"opacity":0},"encoding":{
      "x":{"field":"x0","type":"quantitative","scale":{"domain":[0,11],"nice":false,"zero":false},"axis":{"orient":"top","values":[0,1,2,3,4,5,6,7,8,9,10,11],"labels":false,"title":null}},
      "x2":{"field":"x1"},
      "y":{"field":"a","type":"quantitative","scale":{"domain":[0,0.6],"reverse":true,"nice":false,"zero":false},"axis":{"orient":"right","values":[0,0.02,0.04,0.06,0.08,0.1,0.12,0.14,0.16,0.18,0.2,0.22,0.24,0.26,0.28,0.3,0.32,0.34,0.36,0.38,0.4,0.42,0.44,0.46,0.48,0.5,0.52,0.54,0.56,0.58,0.6],"labels":false,"tickSize":{"condition":{"test":"round(datum.value*100)%10===0","value":5},"value":3},"title":null}},
      "y2":{"field":"b"}}}
    ],
    "resolve":{"axis":{"x":"independent","y":"independent"}}}
  ]}
 ]},
 {"width":717,"height":12,
  "data":{"name":"bar"},
  "view":{"stroke":null},
  "title":{"text":"CFC11 budget [mol yr⁻¹]","anchor":"middle","fontSize":13,"offset":4,"dy":0},
  "layer":[
   {"mark":{"type":"rect","stroke":"black","strokeWidth":1},
    "encoding":{
     "x":{"field":"lo","type":"quantitative","scale":{"domain":[-24.49,24.45],"nice":false,"zero":false},"axis":{"values":[-10,-8,-6,-4,-2,0,2,4,6,8,10],"labelExpr":"'' + datum.value","domain":false,"ticks":false,"title":null,"labelPadding":1,"labelFontSize":12}},
     "x2":{"field":"hi"},
     "color":{"field":"c","type":"quantitative","scale":{"type":"threshold","domain":[-10,-9,-8,-7,-6,-5,-4,-3,-2,-1,0,1,2,3,4,5,6,7,8,9,10],"range":["#00FFFF","#00E0FF","#10C4FF","#1EA8FF","#1E8CFF","#2468FF","#2B2BFF","#5A5AFF","#8080FF","#B4B4FF","#E6E6FA","#FFE4E4","#FFB4B4","#FF8080","#FF5555","#FF3C32","#FF6428","#FF8020","#FFA014","#FFC80A","#FFE600","#FFFF00"]},"legend":null}}},
   {"mark":{"type":"point","opacity":0},
    "encoding":{
     "x":{"field":"lo","type":"quantitative"},
     "y":{"datum":0,"type":"quantitative","scale":{"domain":[0,1]},"axis":{"values":[0],"labelExpr":"'\u2003\u2003'","tickColor":"transparent","tickSize":5,"domain":false,"labelPadding":4,"title":null,"labelFontSize":13}}}}
  ]}
]
}
